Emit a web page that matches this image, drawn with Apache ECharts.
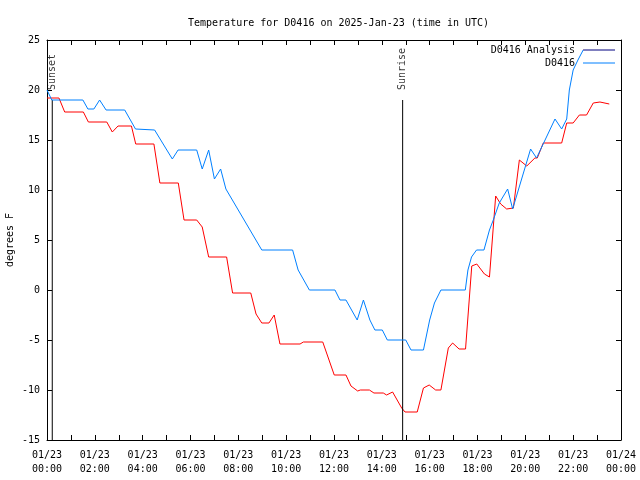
<!DOCTYPE html>
<html>
<head>
<meta charset="utf-8">
<script src="https://cdn.jsdelivr.net/npm/echarts@6/dist/echarts.min.js"></script>
<style>html,body{margin:0;padding:0;background:#fff}#c{width:640px;height:480px}</style>
</head>
<body>
<div id="c"></div>
<script>
// Hours since 2025-01-23 00:00 UTC
const analysisHours = [0,0.5,0.74,1.52,1.73,2.5,2.73,2.97,3.53,3.71,4.47,4.72,5.49,5.73,6.26,6.49,6.76,7.51,7.76,8.52,8.74,8.98,9.28,9.5,9.74,10.58,10.72,11.53,12.01,12.5,12.71,12.99,13.1,13.48,13.67,14.06,14.2,14.45,14.83,14.97,15.48,15.74,15.98,16.25,16.47,16.78,16.96,17.23,17.5,17.76,17.97,18.29,18.5,18.76,18.97,19.22,19.5,19.75,20.06,20.4,20.5,20.75,21.52,21.73,22.0,22.26,22.56,22.84,23.12,23.51];
const analysisTemps = [19.2,19.2,17.8,17.8,16.8,16.8,15.8,16.4,16.4,14.6,14.6,10.7,10.7,7.0,7.0,6.3,3.3,3.3,-0.3,-0.3,-2.4,-3.3,-3.3,-2.5,-5.4,-5.4,-5.2,-5.2,-8.5,-8.5,-9.6,-10.1,-10.0,-10.0,-10.3,-10.3,-10.5,-10.2,-11.8,-12.2,-12.2,-9.8,-9.5,-10.0,-10.0,-5.8,-5.3,-5.9,-5.9,2.4,2.6,1.6,1.3,9.4,8.6,8.1,8.2,13.0,12.4,13.2,13.2,14.7,14.7,16.7,16.7,17.5,17.5,18.7,18.8,18.6];
const obsHours = [0,0.2,1.5,1.71,1.96,2.2,2.47,3.25,3.7,4.5,5.24,5.48,6.26,6.49,6.76,7.0,7.26,7.48,8.98,10.27,10.5,10.97,12.04,12.25,12.5,12.97,13.23,13.5,13.71,14.02,14.23,15.0,15.22,15.74,16.0,16.2,16.47,17.49,17.6,17.75,17.96,18.27,18.5,18.66,18.91,19.26,19.47,20.22,20.47,21.24,21.52,21.73,21.84,22.0,22.2,22.42,23.75];
const obsTemps = [20,19,19,18.1,18.1,19,18,18,16.1,16,13.1,14,14,12.1,14,11.1,12.1,10.1,4,4,2,0,0,-1,-1,-3,-1,-3,-4,-4,-5,-5,-6,-6,-3,-1.3,0,0,2,3.3,4,4,6,7,8.7,10.1,8.1,14.1,13.2,17.1,16.1,17.1,20,22,23,24,24];
const sunEvents = ['Sunset','Sunrise'];
const sunHours = [0.22, 14.87];
const sunLineTop = 19;
const yMin = -15, yMax = 25, yStep = 5;
const xMin = 0, xMax = 24;
const seriesNames = ['D0416 Analysis','D0416'];
const seriesColors = ['#ff0000','#0080ff'];

const FONT = 'DejaVu Sans Mono';
const zip = (a,b) => a.map((v,i)=>[v,b[i]]);
function fmtX(v){
  if (Math.round(v) % 2 !== 0) return '';
  const day = v >= 24 ? '01/24' : '01/23';
  const h = Math.round(v) % 24;
  return day + '\n' + (h<10?'0':'') + h + ':00';
}
const tickCommon = {show:true, inside:true, length:5, lineStyle:{color:'#000'}};
const lineCommon = {show:true, onZero:false, lineStyle:{color:'#000', width:1}};
const lineIcon = 'path://M0,0h0.001v0.001h-0.001zM0,4.5h32v1h-32zM31.999,9.999h0.001v0.001h-0.001z';

const series = [
  {name: seriesNames[0], type:'line', data: zip(analysisHours, analysisTemps), showSymbol:false, symbol:'none',
   lineStyle:{color:seriesColors[0], width:1}, itemStyle:{color:seriesColors[0]}, z:3, animation:false},
  {name: seriesNames[1], type:'line', data: zip(obsHours, obsTemps), showSymbol:false, symbol:'none',
   lineStyle:{color:seriesColors[1], width:1}, itemStyle:{color:seriesColors[1]}, z:6, animation:false}
];
sunHours.forEach((h,i)=>{
  series.push({type:'line', data:[[h,sunLineTop],[h,yMin]], symbol:'none', showSymbol:false,
    lineStyle:{color:'#000', width:1}, z:4, animation:false, silent:true});
  series.push({type:'scatter', data:[[h,sunLineTop]], symbolSize:0, z:4, animation:false, silent:true,
    label:{show:true, formatter: sunEvents[i], position:'top', distance:9, rotate:90, offset:[1,0],
      align:'left', verticalAlign:'middle', color:'#000', fontFamily:FONT, fontSize:10}});
});

const chart = echarts.init(document.getElementById('c'), null, {renderer:'canvas'});
chart.setOption({
  animation:false,
  backgroundColor:'#fff',
  title:{text:'Temperature for D0416 on 2025-Jan-23 (time in UTC)', left:183, top:13,
    textStyle:{fontFamily:FONT, fontSize:10, fontWeight:'normal', color:'#000'}},
  legend:{data: seriesNames.map((n,i)=>({name:n, icon:lineIcon, itemStyle:{color:seriesColors[i]}})),
    orient:'vertical', right:25, top:45, padding:0, align:'right', itemWidth:32, itemHeight:10, itemGap:3, z:4,
    textStyle:{fontFamily:FONT, fontSize:10, color:'#000', padding:[0,3,0,0]}},
  grid:{left:47, right:19, top:40, bottom:40, containLabel:false, outerBoundsMode:'none'},
  xAxis:[
    {type:'value', min:xMin, max:xMax, interval:1, position:'bottom', axisLine:lineCommon, axisTick:tickCommon, splitLine:{show:false},
     axisLabel:{formatter:fmtX, interval:0, margin:8, lineHeight:14, fontFamily:FONT, fontSize:10, color:'#000', showMinLabel:true, showMaxLabel:true}},
    {type:'value', min:xMin, max:xMax, interval:1, position:'top', axisLine:lineCommon, axisTick:tickCommon, splitLine:{show:false}, axisLabel:{show:false}}
  ],
  yAxis:[
    {type:'value', min:yMin, max:yMax, interval:yStep, position:'left', axisLine:lineCommon, axisTick:tickCommon, splitLine:{show:false},
     name:'degrees F', nameLocation:'middle', nameGap:32, nameMoveOverlap:false, nameTextStyle:{fontFamily:FONT, fontSize:10, color:'#000'},
     axisLabel:{margin:7, fontFamily:FONT, fontSize:10, color:'#000'}},
    {type:'value', min:yMin, max:yMax, interval:yStep, position:'right', axisLine:lineCommon, axisTick:tickCommon, splitLine:{show:false}, axisLabel:{show:false}}
  ],
  series: series
});
</script>
</body>
</html>
